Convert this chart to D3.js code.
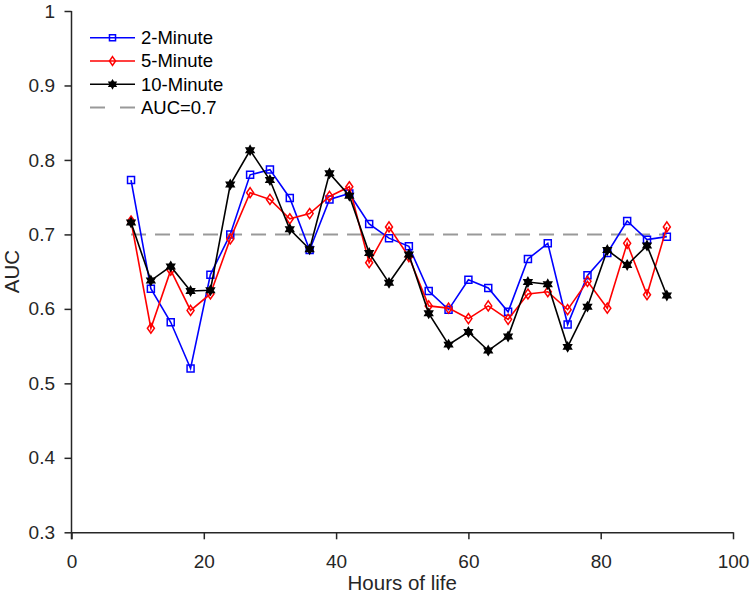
<!DOCTYPE html>
<html>
<head>
<meta charset="utf-8">
<script src="https://cdn.jsdelivr.net/npm/d3@7"></script>
<style>
  html, body { margin: 0; padding: 0; background: #fff; }
  svg { display: block; font-family: "Liberation Sans", Arial, Helvetica, sans-serif; }
</style>
</head>
<body>
<div id="chart"></div>
<script>
const hours = [9, 12, 15, 18, 21, 24, 27, 30, 33, 36, 39, 42, 45, 48, 51, 54, 57, 60, 63, 66, 69, 72, 75, 78, 81, 84, 87, 90];
const auc2min = [0.773, 0.627, 0.582, 0.520, 0.646, 0.700, 0.780, 0.787, 0.749, 0.679, 0.747, 0.755, 0.714, 0.695, 0.684, 0.624, 0.599, 0.639, 0.628, 0.596, 0.667, 0.688, 0.579, 0.645, 0.675, 0.718, 0.693, 0.697];
const auc5min = [0.718, 0.574, 0.652, 0.598, 0.620, 0.694, 0.756, 0.747, 0.721, 0.728, 0.751, 0.764, 0.662, 0.710, 0.670, 0.604, 0.601, 0.587, 0.604, 0.586, 0.620, 0.623, 0.599, 0.637, 0.601, 0.688, 0.619, 0.710];
const auc10min = [0.716, 0.638, 0.657, 0.624, 0.625, 0.767, 0.813, 0.773, 0.707, 0.680, 0.782, 0.752, 0.675, 0.635, 0.673, 0.594, 0.552, 0.569, 0.544, 0.563, 0.636, 0.633, 0.549, 0.603, 0.679, 0.659, 0.685, 0.618];
const seriesNames = ["2-Minute", "5-Minute", "10-Minute"];
const refName = "AUC=0.7";
const refValue = 0.7;
const refRange = [9, 90];
const xTicks = [0, 20, 40, 60, 80, 100];
const yTicks = [0.3, 0.4, 0.5, 0.6, 0.7, 0.8, 0.9, 1];
const xLabel = "Hours of life";
const yLabel = "AUC";

const W = 750, H = 599;
const margin = { left: 71.5, right: 17, top: 11, bottom: 66.7 };
const svg = d3.select("#chart").append("svg").attr("width", W).attr("height", H);

const x = d3.scaleLinear().domain([0, 100]).range([margin.left, W - margin.right]);
const y = d3.scaleLinear().domain([0.3, 1]).range([H - margin.bottom, margin.top]);

const axisColor = "#262626";

// hexagram symbol (6-point star)
const hexagram = {
  draw(ctx, size) {
    const R = Math.sqrt(size / 1.3);
    const r = R * 0.577;
    for (let i = 0; i < 12; i++) {
      const a = -Math.PI / 2 + i * Math.PI / 6;
      const rad = i % 2 === 0 ? R : r;
      const px = rad * Math.cos(a), py = rad * Math.sin(a);
      if (i === 0) ctx.moveTo(px, py); else ctx.lineTo(px, py);
    }
    ctx.closePath();
  }
};
const squareSym = {
  draw(ctx, size) {
    const s = Math.sqrt(size) / 2;
    ctx.moveTo(-s, -s); ctx.lineTo(s, -s); ctx.lineTo(s, s); ctx.lineTo(-s, s); ctx.closePath();
  }
};
const diamondSym = {
  draw(ctx, size) {
    const w = Math.sqrt(size) * 0.5, h = Math.sqrt(size) * 0.72;
    ctx.moveTo(0, -h); ctx.lineTo(w, 0); ctx.lineTo(0, h); ctx.lineTo(-w, 0); ctx.closePath();
  }
};

const series = [
  { name: seriesNames[0], values: auc2min, color: "#0000ff", symbol: squareSym, size: 49, fill: "none" },
  { name: seriesNames[1], values: auc5min, color: "#ff0000", symbol: diamondSym, size: 49, fill: "none" },
  { name: seriesNames[2], values: auc10min, color: "#000000", symbol: hexagram, size: 26, fill: "#000000" }
];

// reference line
svg.append("line")
  .attr("x1", x(refRange[0])).attr("x2", x(refRange[1]))
  .attr("y1", y(refValue)).attr("y2", y(refValue))
  .attr("stroke", "#999999").attr("stroke-width", 2)
  .attr("stroke-dasharray", "15,9");

const line = d3.line().x((d, i) => x(hours[i])).y(d => y(d));

series.forEach(s => {
  svg.append("path").datum(s.values)
    .attr("d", line).attr("fill", "none")
    .attr("stroke", s.color).attr("stroke-width", 1.6);
  svg.append("g").selectAll("path").data(s.values).join("path")
    .attr("transform", (d, i) => `translate(${x(hours[i])},${y(d)})`)
    .attr("d", d3.symbol().type(s.symbol).size(s.size)())
    .attr("fill", s.fill).attr("stroke", s.color).attr("stroke-width", 1.5);
});

// axes
const xAxis = svg.append("g").attr("transform", `translate(0,${y(0.3)})`)
  .call(d3.axisBottom(x).tickValues(xTicks).tickFormat(d3.format("d")).tickSize(7).tickSizeOuter(0));
const yAxis = svg.append("g").attr("transform", `translate(${x(0)},0)`)
  .call(d3.axisLeft(y).tickValues(yTicks).tickFormat(d => d === 1 ? "1" : d3.format(".1f")(d)).tickSize(7).tickSizeOuter(0));
[xAxis, yAxis].forEach(a => {
  a.select(".domain").attr("stroke", axisColor).attr("stroke-width", 1.5);
  a.selectAll(".tick line").attr("stroke", axisColor).attr("stroke-width", 1.5);
  a.selectAll(".tick text").attr("fill", axisColor).attr("font-size", 19)
    .attr("font-family", "'Liberation Sans', Arial, sans-serif");
});
xAxis.selectAll(".tick text").attr("y", 22.5).attr("dy", "0.71em");
yAxis.selectAll(".tick text").attr("x", -16.5);
// extend y axis slightly below x axis
yAxis.select(".domain").attr("d", `M0,${y(1)}V${y(0.3) + 7}`);

// axis labels
svg.append("text").attr("x", (x(0) + x(100)) / 2).attr("y", 590)
  .attr("text-anchor", "middle").attr("font-size", 20.5).attr("fill", axisColor).text(xLabel);
svg.append("text").attr("transform", `translate(19,${(y(0.3) + y(1)) / 2}) rotate(-90)`)
  .attr("text-anchor", "middle").attr("font-size", 20.5).attr("fill", axisColor).text(yLabel);

// legend
const lg = svg.append("g");
const rows = series.concat([{ name: refName, ref: true }]);
rows.forEach((r, i) => {
  const yy = 37.7 + i * 23.3;
  const g = lg.append("g").attr("transform", `translate(0,${yy})`);
  if (r.ref) {
    g.append("line").attr("x1", 90).attr("x2", 135).attr("y1", 0).attr("y2", 0)
      .attr("stroke", "#999999").attr("stroke-width", 2).attr("stroke-dasharray", "15,15");
  } else {
    g.append("line").attr("x1", 90).attr("x2", 135).attr("y1", 0).attr("y2", 0)
      .attr("stroke", r.color).attr("stroke-width", 1.6);
    g.append("path").attr("transform", "translate(112.5,0)")
      .attr("d", d3.symbol().type(r.symbol).size(r.size * 0.75)())
      .attr("fill", r.fill).attr("stroke", r.color).attr("stroke-width", 1.5);
  }
  g.append("text").attr("x", 141).attr("y", 0).attr("dy", "0.35em")
    .attr("font-size", 18.5).attr("fill", "#000").text(r.name);
});
</script>
</body>
</html>
